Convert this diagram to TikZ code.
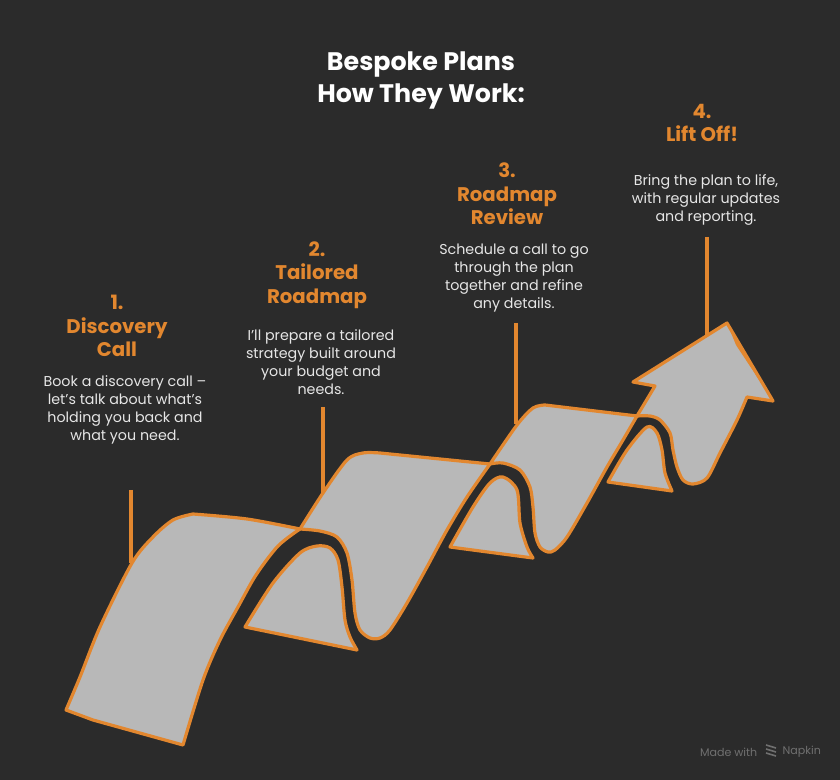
\documentclass[tikz,border=0pt]{standalone}
\usepackage{fontspec}
\setmainfont{Poppins}
\definecolor{bgdark}{HTML}{2B2B2B}
\definecolor{ribbongray}{HTML}{B8B8B8}
\definecolor{steporange}{HTML}{E2872F}
\definecolor{bodytext}{HTML}{E6E6E6}
\definecolor{markgray}{HTML}{707070}
\tikzset{
	ribbon/.style={fill=ribbongray, draw=steporange, line width=2.4pt, line join=round},
	leader/.style={draw=steporange, line width=2.4pt},
	heading/.style={text=steporange, font=\fontsize{14.8}{17.6}\selectfont\bfseries, align=center},
	body/.style={text=bodytext, font=\fontsize{10.7}{13.4}\selectfont, align=center},
}
\begin{document}
\begin{tikzpicture}[x=0.75pt, y=-0.75pt]
		\fill[bgdark] (0,0) rectangle (840,780);
		\useasboundingbox (0,0) rectangle (840,780);
		% title
		\node[text=white, font=\fontsize{19}{24}\selectfont\bfseries, align=center] (title) at (421,80) {Bespoke Plans\\How They Work:};
		% steps
		\node[heading] (head1) at (117,326) {1.\\Discovery\\Call};
		\node[body] (text1) at (125,410) {Book a discovery call –\\let’s talk about what’s\\holding you back and\\what you need.};
		\node[heading] (head2) at (317,275) {2.\\Tailored\\Roadmap};
		\node[body] (text2) at (321,362) {I'll prepare a tailored\\strategy built around\\your budget and\\needs.};
		\node[heading] (head3) at (507,194) {3.\\Roadmap\\Review};
		\node[body] (text3) at (514,278) {Schedule a call to go\\through the plan\\together and refine\\any details.};
		\node[heading] (head4) at (702,123) {4.\\Lift Off!};
		\node[body] (text4) at (706,200) {Bring the plan to life,\\with regular updates\\and reporting.};
		% leader lines
		\coordinate (top1) at (131,490); \coordinate (foot1) at (131,563);
		\coordinate (top2) at (323,407); \coordinate (foot2) at (323,493);
		\coordinate (top3) at (516,323); \coordinate (foot3) at (516,424);
		\coordinate (top4) at (707,237); \coordinate (foot4) at (707,335);
		\draw[leader] (top1) -- (foot1);
		\draw[leader] (top2) -- (foot2);
		\draw[leader] (top3) -- (foot3);
		\draw[leader] (top4) -- (foot4);
		% ribbon, back to front
		\draw[ribbon] (245,627) -- plot[smooth] coordinates {(245,627) (273,583) (300,553) (317,546) (330,548) (338,560) (342,587) (345,620) (350,637) (357,650)} -- cycle;
		\draw[ribbon] (66,710) -- plot[smooth] coordinates {(66,710) (80,677) (100,627) (132,563) (153,537) (173,520) (193,514)} -- plot[smooth] coordinates {(193,514) (247,519) (300,529)} -- plot[smooth] coordinates {(300,529) (278,546) (256,575) (238,607) (220,640) (203,680) (183,745)} -- (93,720) -- cycle;
		\draw[ribbon] (300,529) -- plot[smooth] coordinates {(300,529) (323,493) (347,460) (363,453) (380,453)} -- (490,464) -- plot[smooth] coordinates {(490,464) (467,497) (447,530) (427,567) (407,603) (390,630) (380,638) (370,638) (360,630) (355,613) (352,580) (347,553) (337,537) (320,531) (300,529)} -- cycle;
		\draw[ribbon] (450,547) -- plot[smooth] coordinates {(450,547) (473,507) (490,483) (503,477) (517,490) (520,523) (527,547) (533,558)} -- cycle;
		\draw[ribbon] (490,464) -- plot[smooth] coordinates {(490,464) (517,425) (533,408) (545,405)} -- (637,416) -- plot[smooth] coordinates {(637,416) (623,440) (607,467) (587,503) (567,537) (555,550) (548,552) (540,547) (535,533) (533,507) (530,487) (520,470) (503,463) (490,464)} -- cycle;
		\draw[ribbon] (608,482) -- plot[smooth] coordinates {(608,482) (627,450) (647,427) (657,433) (662,450) (665,473) (672,491)} -- cycle;
		\draw[ribbon] (637,416) -- (655,386) -- (633,382) -- (727,323) -- (773,401) -- (747,397) -- plot[smooth] coordinates {(747,397) (737,420) (720,453) (707,478) (693,484) (683,480) (677,467) (673,450) (670,433) (660,420) (650,416) (637,416)} -- cycle;
		\fill[steporange] (727,323) -- (773,401) -- (736,345) -- cycle;
		% watermark
		\node[text=markgray, font=\fontsize{8.3}{10}\selectfont, anchor=east] (madewith) at (762,752) {Made with};
		\node[text=markgray, font=\fontsize{8.3}{10}\selectfont, anchor=west] (napkin) at (778,752) {Napkin};
		\foreach \k in {0,1,2}
			\draw[markgray, line width=1.2pt] (766,745+4*\k) -- (776,748+4*\k);
	\end{tikzpicture}
\end{document}
